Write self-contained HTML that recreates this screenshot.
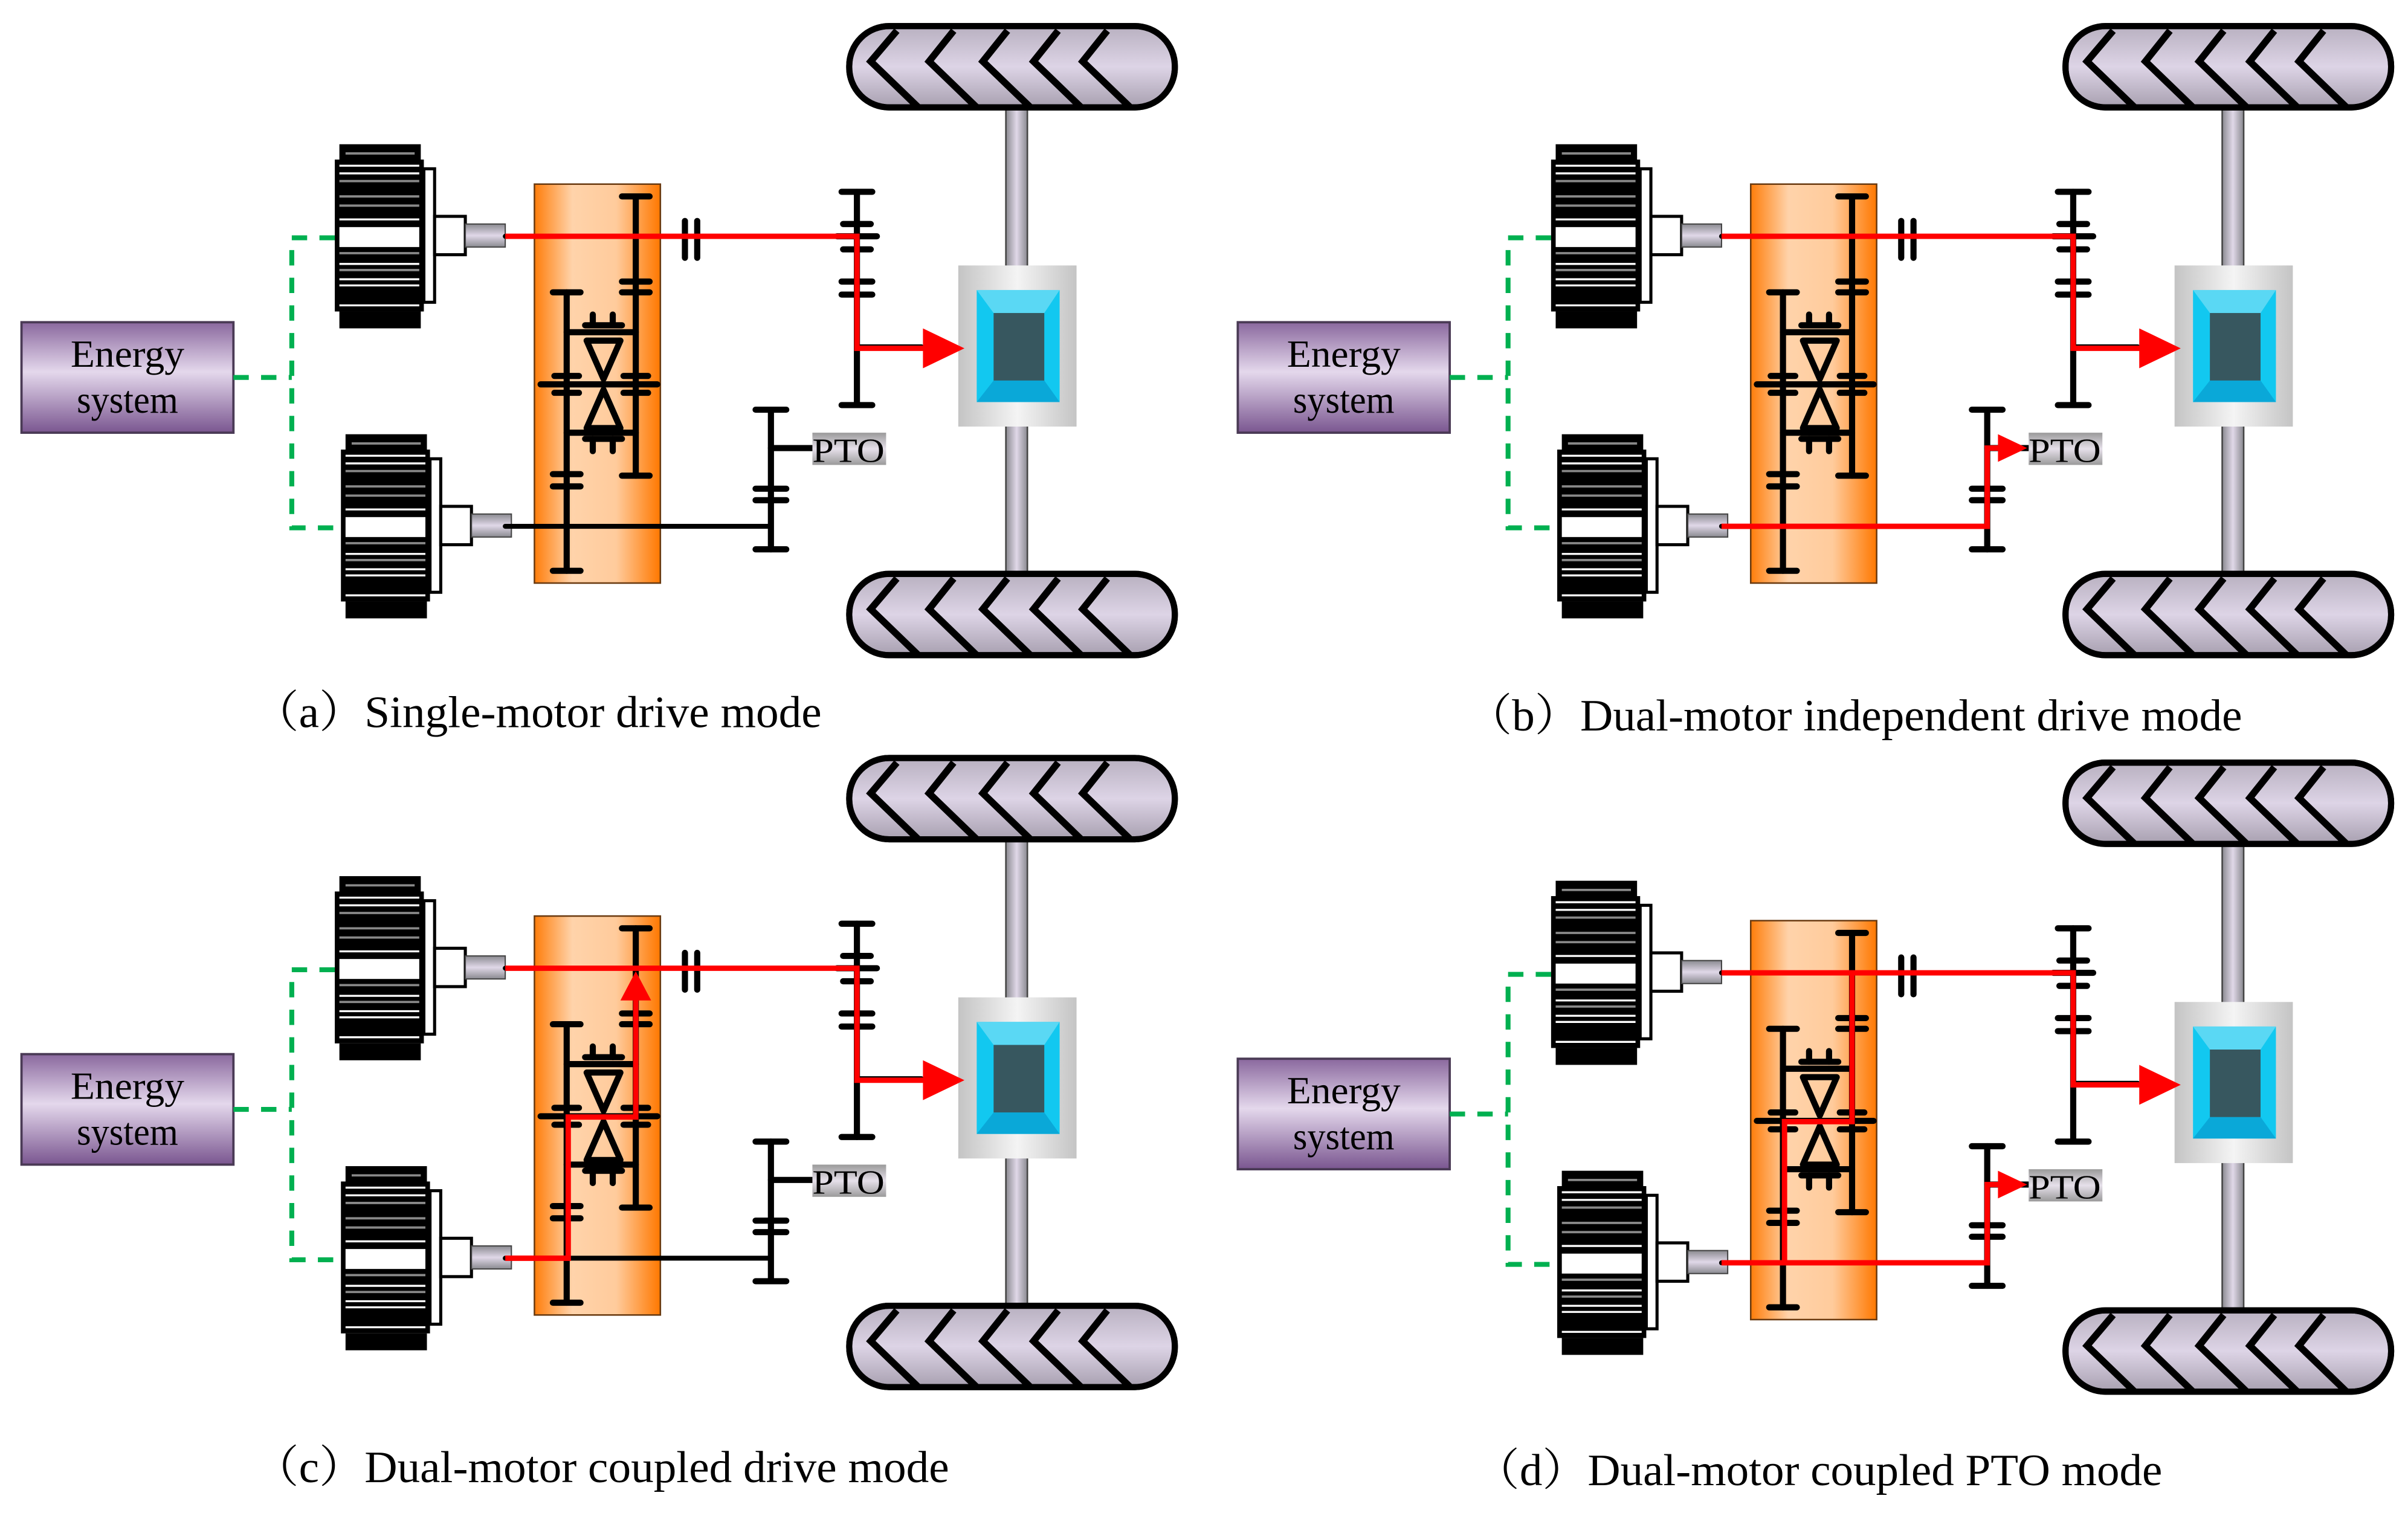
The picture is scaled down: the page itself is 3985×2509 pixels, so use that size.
<!DOCTYPE html>
<html><head><meta charset="utf-8"><style>html,body{margin:0;padding:0;background:#fff}svg{display:block}</style></head>
<body>
<svg width="3985" height="2509" viewBox="0 0 1568 988" preserveAspectRatio="none" xmlns="http://www.w3.org/2000/svg">
<defs>
<linearGradient id="og" x1="0" x2="1" y1="0" y2="0"><stop offset="0" stop-color="#ff7d0a"/><stop offset="0.3" stop-color="#ffd3aa"/><stop offset="0.65" stop-color="#ffcb9c"/><stop offset="1" stop-color="#ff7800"/></linearGradient>
<linearGradient id="eg" x1="0" x2="0" y1="0" y2="1"><stop offset="0" stop-color="#8a689e"/><stop offset="0.45" stop-color="#e4d8ec"/><stop offset="1" stop-color="#7a5690"/></linearGradient>
<linearGradient id="wg" x1="0" x2="0" y1="0" y2="1"><stop offset="0" stop-color="#b8b0c0"/><stop offset="0.5" stop-color="#ddd4e6"/><stop offset="1" stop-color="#a8a0b0"/></linearGradient>
<linearGradient id="sg" x1="0" x2="0" y1="0" y2="1"><stop offset="0" stop-color="#8a8a90"/><stop offset="0.5" stop-color="#e0d8e8"/><stop offset="1" stop-color="#8a8a90"/></linearGradient>
<linearGradient id="ag" x1="0" x2="1" y1="0" y2="0"><stop offset="0" stop-color="#8a8a90"/><stop offset="0.5" stop-color="#e0d8e8"/><stop offset="1" stop-color="#8a8a90"/></linearGradient>
<linearGradient id="dg" x1="0" x2="1" y1="0" y2="0"><stop offset="0" stop-color="#c4c4c4"/><stop offset="0.5" stop-color="#f4f4f4"/><stop offset="1" stop-color="#c4c4c4"/></linearGradient>
<linearGradient id="pg" x1="0" x2="0" y1="0" y2="1"><stop offset="0" stop-color="#9a9a9a"/><stop offset="0.5" stop-color="#e6e0ea"/><stop offset="1" stop-color="#9a9a9a"/></linearGradient>
<clipPath id="wc1"><rect x="553" y="17" width="212" height="53" rx="26"/></clipPath>
<clipPath id="wc2"><rect x="553" y="374" width="212" height="53" rx="26"/></clipPath>
<g id="motor">
 <rect x="221" y="94" width="53" height="11" fill="#000"/>
 <rect x="218" y="104" width="58" height="99" fill="#000"/>
 <g stroke="#fff" stroke-width="1.3">
  <line x1="221" y1="108" x2="273" y2="108"/><line x1="221" y1="113" x2="273" y2="113"/>
  <line x1="221" y1="143" x2="273" y2="143"/><line x1="221" y1="172" x2="273" y2="172"/>
  <line x1="221" y1="182" x2="273" y2="182"/><line x1="221" y1="186" x2="273" y2="186"/><line x1="221" y1="199" x2="273" y2="199"/>
 </g>
 <g stroke="#888" stroke-width="1.5">
  <line x1="221" y1="118" x2="273" y2="118"/><line x1="221" y1="128" x2="273" y2="128"/><line x1="221" y1="134" x2="273" y2="134"/>
  <line x1="221" y1="165" x2="273" y2="165"/><line x1="221" y1="176" x2="273" y2="176"/>
  <line x1="225" y1="207" x2="270" y2="207"/><line x1="225" y1="100" x2="270" y2="100"/>
 </g>
 <rect x="221" y="148" width="52" height="13" fill="#fff"/>
 <rect x="276" y="110" width="7" height="87" fill="#fff" stroke="#000" stroke-width="2"/>
 <rect x="221" y="203" width="53" height="11" fill="#000"/>
 <rect x="283" y="141" width="20" height="25" fill="#fff" stroke="#000" stroke-width="2"/>
 <rect x="303" y="146" width="26" height="15" fill="url(#sg)" stroke="#444" stroke-width="0.8"/>
</g>
<g id="base">
 <rect x="655" y="68" width="14" height="108" fill="url(#ag)" stroke="#444" stroke-width="1"/>
 <rect x="655" y="276" width="14" height="100" fill="url(#ag)" stroke="#444" stroke-width="1"/>
 <g>
  <rect x="553" y="17" width="212" height="53" rx="26" fill="url(#wg)" stroke="#000" stroke-width="4"/>
  <g clip-path="url(#wc1)" fill="none" stroke="#000" stroke-width="4.5">
   <polyline points="584,20 567,40 598,70"/><polyline points="621,20 605,40 636,70"/><polyline points="656,20 640,40 671,70"/><polyline points="689,20 673,40 704,70"/><polyline points="721,20 705,40 736,70"/>
  </g>
  <rect x="553" y="17" width="212" height="53" rx="26" fill="none" stroke="#000" stroke-width="4"/>
 </g>
 <g>
  <rect x="553" y="374" width="212" height="53" rx="26" fill="url(#wg)" stroke="#000" stroke-width="4"/>
  <g clip-path="url(#wc2)" fill="none" stroke="#000" stroke-width="4.5">
   <polyline points="584,377 567,397 598,427"/><polyline points="621,377 605,397 636,427"/><polyline points="656,377 640,397 671,427"/><polyline points="689,377 673,397 704,427"/><polyline points="721,377 705,397 736,427"/>
  </g>
  <rect x="553" y="374" width="212" height="53" rx="26" fill="none" stroke="#000" stroke-width="4"/>
 </g>
 <rect x="624" y="173" width="77" height="105" fill="url(#dg)"/>
 <rect x="636" y="189" width="54" height="73" fill="#12c8f0"/>
 <polygon points="636,189 690,189 680,204 647,204" fill="#5ad8f4"/>
 <polygon points="636,262 690,262 680,248 647,248" fill="#0aa8d8"/>
 <rect x="647" y="204" width="33" height="44" fill="#37575f"/>
 <rect x="14" y="210" width="138" height="72" fill="url(#eg)" stroke="#4a3a55" stroke-width="1.5"/>
 <g fill="none" stroke="#00b050" stroke-width="3.2" stroke-dasharray="10,8">
  <polyline points="152,246 190,246"/>
  <polyline points="218,155 190,155 190,344 222,344"/>
 </g>
 <use href="#motor"/>
 <use href="#motor" transform="translate(4,189)"/>
 <rect x="348" y="120" width="82" height="260" fill="url(#og)" stroke="#6a3a10" stroke-width="1"/>
 <g stroke="#000" stroke-width="3.2" fill="none" stroke-linecap="round">
  <line x1="329" y1="154" x2="558" y2="154"/>
  <line x1="329" y1="343" x2="502" y2="343"/>
  <line x1="558" y1="226" x2="600" y2="226"/>
 </g>
 <g stroke="#000" stroke-width="4" fill="none" stroke-linecap="round">
  <line x1="558" y1="125" x2="558" y2="264"/>
  <line x1="548" y1="125" x2="568" y2="125"/><line x1="549" y1="146" x2="567" y2="146"/><line x1="545" y1="154" x2="571" y2="154"/><line x1="549" y1="162.5" x2="567" y2="162.5"/><line x1="548" y1="183.5" x2="568" y2="183.5"/><line x1="548" y1="192" x2="568" y2="192"/><line x1="548" y1="264" x2="568" y2="264"/>
  <line x1="502" y1="267" x2="502" y2="358"/>
  <line x1="492" y1="267" x2="512" y2="267"/><line x1="492" y1="318.5" x2="512" y2="318.5"/><line x1="492" y1="326" x2="512" y2="326"/><line x1="492" y1="358" x2="512" y2="358"/>
  <line x1="502" y1="292" x2="530" y2="292"/>
  <line x1="446" y1="144" x2="446" y2="168"/><line x1="454" y1="144" x2="454" y2="168"/>
  <line x1="414" y1="128" x2="414" y2="310"/>
  <line x1="405" y1="128" x2="423" y2="128"/><line x1="405" y1="183.5" x2="423" y2="183.5"/><line x1="405" y1="190.5" x2="423" y2="190.5"/><line x1="406" y1="245" x2="422" y2="245"/><line x1="406" y1="256" x2="422" y2="256"/><line x1="405" y1="310" x2="423" y2="310"/>
  <line x1="369" y1="190.5" x2="369" y2="372"/>
  <line x1="360" y1="190.5" x2="378" y2="190.5"/><line x1="361" y1="245" x2="377" y2="245"/><line x1="361" y1="256" x2="377" y2="256"/><line x1="360" y1="309" x2="378" y2="309"/><line x1="360" y1="317" x2="378" y2="317"/><line x1="360" y1="372" x2="378" y2="372"/>
  <line x1="352" y1="250.5" x2="428" y2="250.5"/>
  <line x1="369" y1="216.5" x2="414" y2="216.5"/><line x1="369" y1="282" x2="414" y2="282"/>
  <line x1="381" y1="212" x2="405" y2="212"/><line x1="386" y1="205" x2="386" y2="212"/><line x1="399" y1="205" x2="399" y2="212"/>
  <line x1="381" y1="286" x2="405" y2="286"/><line x1="386" y1="286" x2="386" y2="294"/><line x1="399" y1="286" x2="399" y2="294"/>
  <polygon points="382,222 404,222 393,247" stroke-linejoin="round"/>
  <polygon points="382,279 404,279 393,254" stroke-linejoin="round"/>
 </g>
 <rect x="529" y="282" width="48" height="21" fill="url(#pg)"/>
</g>
<g id="rtop">
 <polyline points="329,154 558,154 558,227 603,227" fill="none" stroke="#f00" stroke-width="3.5"/>
 <polygon points="601,214 628,227 601,240" fill="#f00"/>
</g>
</defs>

<g>
 <use href="#base"/><use href="#rtop"/>
</g>
<g transform="translate(792,0)">
 <use href="#base"/><use href="#rtop"/>
 <polyline points="329,343 502,343 502,292 512,292" fill="none" stroke="#f00" stroke-width="3.5"/>
 <polygon points="509,283 528,292 509,301" fill="#f00"/>
</g>
<g transform="translate(0,477)">
 <use href="#base"/><use href="#rtop"/>
 <polyline points="329,343 370,343 370,251 414,251 414,172" fill="none" stroke="#f00" stroke-width="3.5"/>
 <polygon points="404,175 414,156 424,175" fill="#f00"/>
</g>
<g transform="translate(792,480)">
 <use href="#base"/><use href="#rtop"/>
 <polyline points="329,343 502,343 502,292 512,292" fill="none" stroke="#f00" stroke-width="3.5"/>
 <polygon points="509,283 528,292 509,301" fill="#f00"/>
 <polyline points="370,343 370,251 414,251 414,154" fill="none" stroke="#f00" stroke-width="3.5"/>
</g>

<g font-family="'Liberation Serif', 'Noto Serif CJK SC', serif" fill="#000">
 <g font-size="25" text-anchor="middle">
  <text x="83" y="239" textLength="74" lengthAdjust="spacingAndGlyphs">Energy</text><text x="83" y="269" textLength="66" lengthAdjust="spacingAndGlyphs">system</text>
  <text x="875" y="239" textLength="74" lengthAdjust="spacingAndGlyphs">Energy</text><text x="875" y="269" textLength="66" lengthAdjust="spacingAndGlyphs">system</text>
  <text x="83" y="716" textLength="74" lengthAdjust="spacingAndGlyphs">Energy</text><text x="83" y="746" textLength="66" lengthAdjust="spacingAndGlyphs">system</text>
  <text x="875" y="719" textLength="74" lengthAdjust="spacingAndGlyphs">Energy</text><text x="875" y="749" textLength="66" lengthAdjust="spacingAndGlyphs">system</text>
 </g>
 <g font-size="22">
  <text x="529" y="301" textLength="47" lengthAdjust="spacingAndGlyphs">PTO</text>
  <text x="1321" y="301" textLength="47" lengthAdjust="spacingAndGlyphs">PTO</text>
  <text x="529" y="778" textLength="47" lengthAdjust="spacingAndGlyphs">PTO</text>
  <text x="1321" y="781" textLength="47" lengthAdjust="spacingAndGlyphs">PTO</text>
 </g>
 <g font-size="29">
  <text x="165" y="474" textLength="370" lengthAdjust="spacingAndGlyphs">（a）Single-motor drive mode</text>
  <text x="955" y="476" textLength="505" lengthAdjust="spacingAndGlyphs">（b）Dual-motor independent drive mode</text>
  <text x="165" y="966" textLength="453" lengthAdjust="spacingAndGlyphs">（c）Dual-motor coupled drive mode</text>
  <text x="960" y="968" textLength="448" lengthAdjust="spacingAndGlyphs">（d）Dual-motor coupled PTO mode</text>
 </g>
</g>
</svg>
</body></html>
